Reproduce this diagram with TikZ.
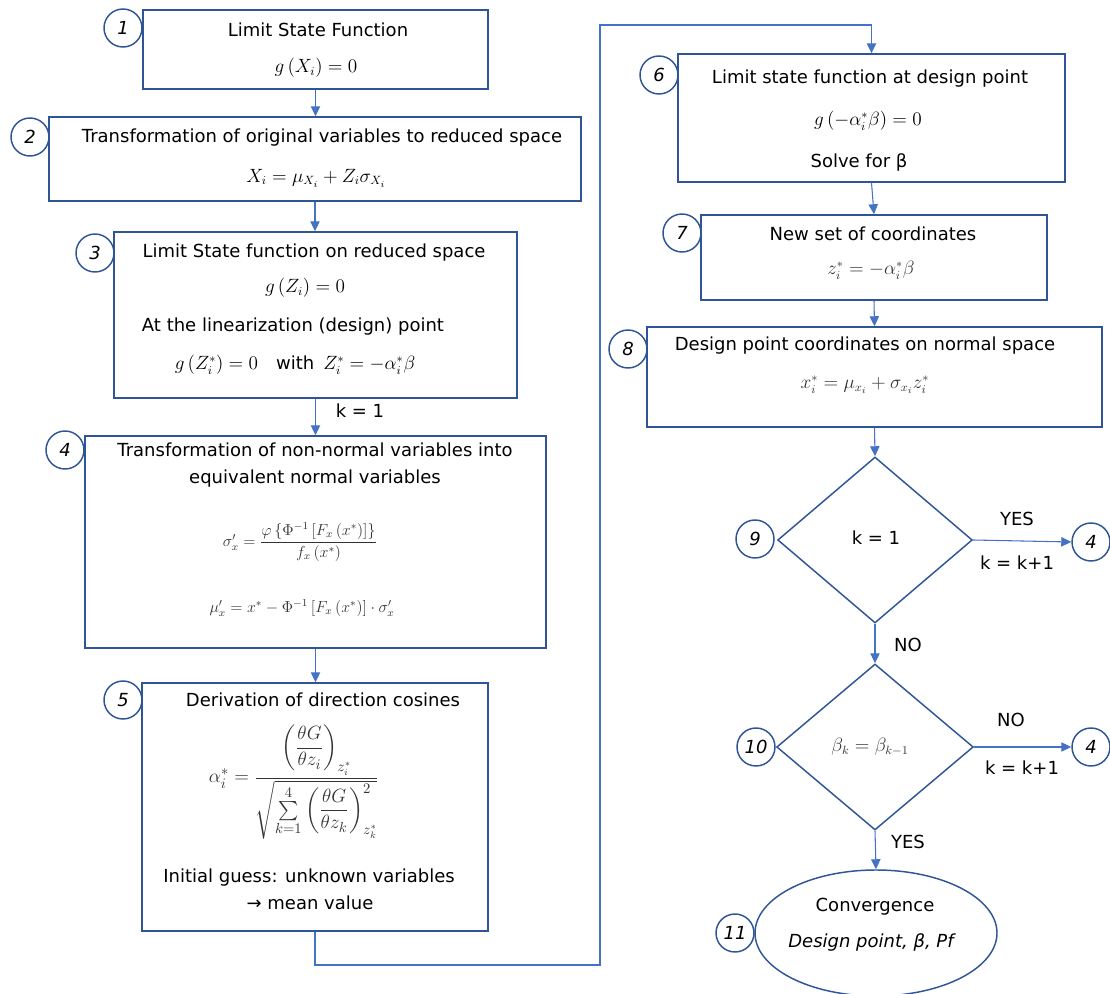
\documentclass[tikz,border=0pt]{standalone}
\usepackage{fontspec}
\setmainfont{DejaVu Sans}
\usepackage{amsmath}
\usetikzlibrary{arrows.meta,fit,shapes.geometric}
\definecolor{boxblue}{HTML}{2F5597}
\definecolor{flowblue}{HTML}{4472C4}
\definecolor{loopblue}{HTML}{8FAADC}
\definecolor{eqgray}{HTML}{333333}
\newcommand{\txtsize}{\fontsize{13.5}{16}\selectfont}
\tikzset{
	stepbox/.style={draw=boxblue, line width=1.1pt, inner sep=0pt},
	numcirc/.style={draw=boxblue, line width=1.1pt, circle, fill=white, minimum size=28.5pt, inner sep=0pt, font=\txtsize\itshape},
	decision/.style={draw=boxblue, line width=1.1pt, diamond, inner sep=0pt, minimum width=146pt, minimum height=124.5pt},
	flow/.style={draw=flowblue, line width=0.8pt, -{Triangle[length=7.5pt,width=7pt]}},
	loopline/.style={draw=loopblue, line width=1.1pt, -{Triangle[length=7.5pt,width=7pt]}, flowblue},
	lbl/.style={font=\txtsize, inner sep=0pt},
	mathtxt/.style={font=\txtsize, inner sep=0pt},
	greq/.style={font=\fontsize{12}{14}\selectfont, text=eqgray, inner sep=0pt},
}

\begin{document}
\begin{tikzpicture}[x=0.75pt,y=-0.75pt]
	\useasboundingbox (0,0) rectangle (1110,994);
	
	%%%%% LEFT COLUMN %%%%%
	
	\node[stepbox, fit={(143,10) (488,89)}] (b1) {};
	\node[lbl] (t1) at (318,30) {Limit State Function};
	\node[mathtxt] (f1) at (316,68) {$g\left(X_i\right)=0$};
	
	\node[stepbox, fit={(49,117) (581,201)}] (b2) {};
	\node[lbl] (t2) at (322,138) {Transformation of original variables to reduced space};
	\node[mathtxt] (f2) at (316,178) {$X_i=\mu_{X_i}+Z_i\sigma_{X_i}$};
	
	\node[stepbox, fit={(114,232) (517,398)}] (b3) {};
	\node[lbl] (t3) at (314,253) {Limit State function on reduced space};
	\node[mathtxt] (f3) at (305,288) {$g\left(Z_i\right)=0$};
	\node[lbl] (t3b) at (293,327) {At the linearization (design) point};
	\node[mathtxt] (f3b) at (295,365) {$g\left(Z_i^{*}\right)=0$\quad with\enspace $Z_i^{*}=-\alpha_i^{*}\beta$};
	
	\node[stepbox, fit={(85,436) (546,648)}] (b4) {};
	\node[lbl, align=center, font=\fontsize{13.5}{20}\selectfont] (t4) at (315,465) {Transformation of non-normal variables into\\equivalent normal variables};
	\node[greq] (f4) at (300,542) {$\sigma^{\prime}_x=\dfrac{\varphi\left\{\Phi^{-1}\left[F_x\left(x^{*}\right)\right]\right\}}{f_x\left(x^{*}\right)}$};
	\node[greq] (f4b) at (302,608) {$\mu^{\prime}_x=x^{*}-\Phi^{-1}\left[F_x\left(x^{*}\right)\right]\cdot\sigma^{\prime}_x$};
	
	\node[stepbox, fit={(142,683) (488,931)}] (b5) {};
	\node[lbl] (t5) at (323,700) {Derivation of direction cosines};
	\node[greq, font=\fontsize{15}{18}\selectfont] (f5) at (294,782) {$\alpha_i^{*}=\dfrac{\left(\dfrac{\theta G}{\theta z_i}\right)_{z_i^{*}}}{\sqrt{\sum\limits_{k=1}^{4}\left(\dfrac{\theta G}{\theta z_k}\right)^{2}_{z_k^{*}}}}$};
	\node[lbl] (t5b) at (309,878) {Initial guess: unknown variables};
	\node[lbl] (t5c) at (310,903) {→ mean value};
	
	%%%%% RIGHT COLUMN %%%%%
	
	\node[stepbox, fit={(678,54) (1065,182)}] (b6) {};
	\node[lbl] (t6) at (870,79) {Limit state function at design point};
	\node[mathtxt] (f6) at (868,121) {$g\left(-\alpha_i^{*}\beta\right)=0$};
	\node[lbl] (t6b) at (859,162) {Solve for β};
	
	\node[stepbox, fit={(701,215) (1047,300)}] (b7) {};
	\node[lbl] (t7) at (873,234) {New set of coordinates};
	\node[greq, font=\txtsize] (f7) at (871,270) {$z_i^{*}=-\alpha_i^{*}\beta$};
	
	\node[stepbox, fit={(647,327) (1102,427)}] (b8) {};
	\node[lbl] (t8) at (865,346) {Design point coordinates on normal space};
	\node[greq, font=\txtsize] (f8) at (865,385) {$x_i^{*}=\mu_{x_i}+\sigma_{x_i}z_i^{*}$};
	
	\node[decision] (d9) at (875,540) {};
	\node[lbl] (t9) at (876,538) {k = 1};
	
	\node[decision, minimum width=147.5pt] (d10) at (875,747) {};
	\node[mathtxt, text=eqgray] (t10) at (870,747) {$\beta_k=\beta_{k-1}$};
	
	\node[draw=boxblue, line width=1.1pt, ellipse, minimum width=181.5pt, minimum height=94.5pt, inner sep=0pt] (e11) at (876,933) {};
	\node[lbl] (t11) at (875,907) {Convergence};
	\node[lbl, font=\txtsize\itshape] (t11b) at (871,942) {Design point, β, Pf};
	
	%%%%% NUMBERS %%%%%
	
	\node[numcirc] (n1) at (123,28) {1};
	\node[numcirc] (n2) at (30,137) {2};
	\node[numcirc] (n3) at (95,253) {3};
	\node[numcirc] (n4) at (65,450) {4};
	\node[numcirc] (n5) at (123,700) {5};
	\node[numcirc] (n6) at (659,75) {6};
	\node[numcirc] (n7) at (682,233) {7};
	\node[numcirc] (n8) at (628,349) {8};
	\node[numcirc] (n9) at (755,539) {9};
	\node[numcirc] (n10) at (756,747) {10};
	\node[numcirc] (n11) at (735,933) {11};
	\node[numcirc] (r9) at (1091,542) {4};
	\node[numcirc] (r10) at (1091,747) {4};
	
	%%%%% ARROWS %%%%%
	
	\draw[flow] (b1.south) -- (b1.south |- b2.north);
	\draw[flow] (b2.south) -- (b2.south |- b3.north);
	\draw[flow] (b3.south) -- (b3.south |- b4.north);
	\node[lbl] (k1) at (360,411) {k = 1};
	\draw[flow] (b4.south) -- (b4.south |- b5.north);
	
	\coordinate (lpa) at (600,965);
	\coordinate (lpb) at (600,25);
	\draw[loopline] (b5.south) |- (lpa) -- (lpb) -| (b6.north);
	
	\draw[flow] (b6.south) -- (b7.north);
	\draw[flow] (b7.south) -- (b8.north);
	\draw[flow] (b8.south) -- (d9.north);
	\draw[flow] (d9.south) -- (d10.north);
	\draw[flow] (d10.south) -- (e11.north);
	\draw[flow] (d9.east) -- (r9.west);
	\draw[flow] (d10.east) -- (r10.west);
	
	\node[lbl] (y9) at (1017,519) {YES};
	\node[lbl] (k9) at (1017,563) {k = k+1};
	\node[lbl] (no9) at (908,645) {NO};
	\node[lbl] (no10) at (1011,720) {NO};
	\node[lbl] (k10) at (1022,768) {k = k+1};
	\node[lbl] (y10) at (908,842) {YES};
	
\end{tikzpicture}
\end{document}
